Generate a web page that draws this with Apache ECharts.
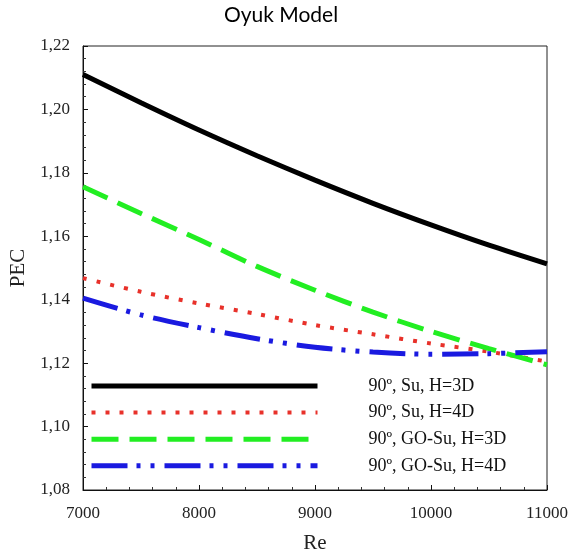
<!DOCTYPE html>
<html><head><meta charset="utf-8">
<script src="https://cdn.jsdelivr.net/npm/echarts@6/dist/echarts.min.js"></script>
<style>html,body{margin:0;padding:0;background:#fff}#c{width:571px;height:559px}</style>
</head><body><div id="c"></div>
<script>
const re = [7000, 7500, 8000, 8500, 9000, 9500, 10000, 10500, 11000];
const suH3 = [1.2110, 1.2021, 1.1935, 1.1854, 1.1777, 1.1704, 1.1636, 1.1572, 1.1513];
const suH4 = [1.1468, 1.1425, 1.1388, 1.1355, 1.1320, 1.1291, 1.1262, 1.1236, 1.1205];
const goH3 = [1.1756, 1.1672, 1.1590, 1.1505, 1.1430, 1.1361, 1.1300, 1.1246, 1.1195];
const goH4 = [1.1405, 1.1352, 1.1312, 1.1277, 1.1250, 1.1235, 1.1228, 1.1230, 1.1236];
const names = ['90º, Su, H=3D', '90º, Su, H=4D', '90º, GO-Su, H=3D', '90º, GO-Su, H=4D'];
const xTicks = [7000, 8000, 9000, 10000, 11000];
const yTicks = [1.08, 1.10, 1.12, 1.14, 1.16, 1.18, 1.20, 1.22];

const serif = 'Liberation Serif';
const widths = [5, 4, 5, 5];
function pairs(v){ return re.map((x,i)=>[x, v[i]]); }
const chart = echarts.init(document.getElementById('c'), null, {renderer:'canvas'});
chart.setOption({
  animation:false,
  backgroundColor:'#fff',
  title:{text:'Oyuk Model', left:276, top:0, textAlign:'center',
    textStyle:{fontFamily:'Lato', fontSize:21, fontWeight:'normal', color:'#000'}},
  grid:{left:83, right:24, top:46, bottom:69, outerBoundsMode:'none', containLabel:false,
    show:true, borderColor:'#222', borderWidth:1, backgroundColor:'transparent'},
  legend:{orient:'vertical', left:89, top:377, padding:0, itemWidth:226, itemHeight:14, itemGap:8.6,
    data:names.map((n,i)=>({name:n, lineStyle:{width:widths[i]}})),
    itemStyle:{opacity:0},
    textStyle:{fontFamily:serif, fontSize:18, color:'#111', padding:[0,0,0,46]}},
  xAxis:{type:'value', min:xTicks[0], max:xTicks[xTicks.length-1], interval:1000,
    name:'Re', nameLocation:'middle', nameGap:43,
    nameTextStyle:{fontFamily:serif, fontSize:21, color:'#222'},
    axisLine:{lineStyle:{color:'#111', width:1}},
    axisTick:{inside:true, length:5, lineStyle:{color:'#111'}},
    minorTick:{show:true, splitNumber:5, length:3, lineStyle:{color:'#333'}},
    splitLine:{show:false},
    axisLabel:{fontFamily:serif, fontSize:17, color:'#222', margin:15,
      formatter:v=>xTicks.includes(v)?String(v):''}},
  yAxis:{type:'value', min:yTicks[0], max:yTicks[yTicks.length-1], interval:0.02,
    name:'PEC', nameLocation:'middle', nameGap:43, nameRotate:90,
    nameTextStyle:{fontFamily:serif, fontSize:21, color:'#222'},
    axisLine:{show:true, lineStyle:{color:'#111', width:1}},
    axisTick:{show:true, inside:true, length:5, lineStyle:{color:'#111'}},
    minorTick:{show:true, splitNumber:5, length:3, lineStyle:{color:'#333'}},
    splitLine:{show:false},
    axisLabel:{fontFamily:serif, fontSize:17, color:'#222', margin:13,
      formatter:v=>v.toFixed(2).replace('.',',')}},
  series:[
    {name:names[0], type:'line', data:pairs(suH3), smooth:0.3, showSymbol:false, symbol:'none',
      lineStyle:{color:'#000', width:widths[0], type:'solid'}, itemStyle:{color:'#000'}},
    {name:names[1], type:'line', data:pairs(suH4), smooth:0.3, showSymbol:false, symbol:'none',
      lineStyle:{color:'#e8312a', width:widths[1], type:[4,10]}, itemStyle:{color:'#e8312a'}},
    {name:names[2], type:'line', data:pairs(goH3), smooth:0.3, showSymbol:false, symbol:'none',
      lineStyle:{color:'#22ee22', width:widths[2], type:[27,11]}, itemStyle:{color:'#22ee22'}},
    {name:names[3], type:'line', data:pairs(goH4), smooth:0.3, showSymbol:false, symbol:'none',
      lineStyle:{color:'#1a1ae0', width:widths[3], type:[36,9,4,10,4,10]}, itemStyle:{color:'#1a1ae0'}}
  ]
});
</script></body></html>
